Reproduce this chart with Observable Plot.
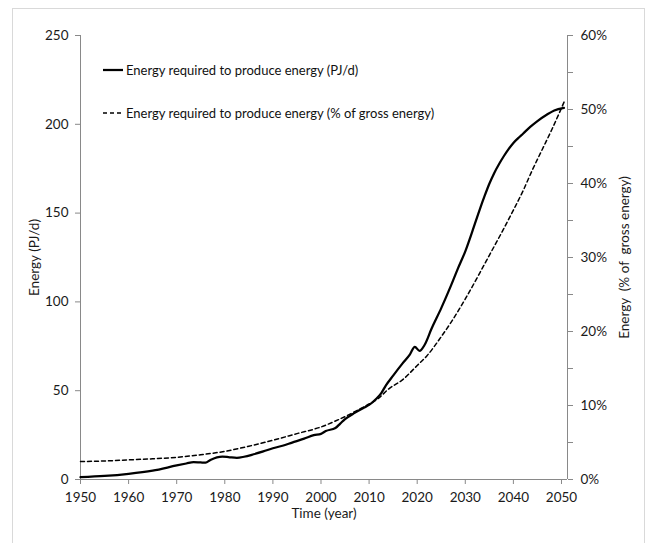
<!DOCTYPE html>
<html>
<head>
<meta charset="utf-8">
<script src="https://cdn.jsdelivr.net/npm/d3@7"></script>
<script src="https://cdn.jsdelivr.net/npm/@observablehq/plot@0.6"></script>
<style>
  html, body { margin: 0; padding: 0; background: #fff; overflow: hidden; }
  #wrap { position: relative; width: 648px; height: 543px; font-family: Lato, "Open Sans", sans-serif; }
  #border { position: absolute; left: 12px; top: 8px; width: 633px; height: 560px; border: 1px solid #d9d9d9; box-sizing: border-box; }
  #chart { position: absolute; left: 0; top: 0; }
  .leg { position: absolute; left: 103px; font-size: 13px; color: #111; white-space: nowrap; display: flex; align-items: center; }
  .leg svg { margin-right: 2px; }
</style>
</head>
<body>
<div id="wrap">
  <div id="border"></div>
  <div id="chart"></div>
</div>
<script>
// Energy required to produce energy (PJ/d) – solid line, left axis
const yearsPJ = [1950, 1955, 1960, 1965, 1970, 1972, 1973.5, 1975, 1976, 1977, 1979.5, 1981, 1982.5, 1984, 1986, 1988, 1990, 1992, 1994, 1996.5, 1998.5, 2000, 2001, 2003, 2004, 2005, 2007, 2009, 2010, 2011.5, 2012.5, 2013.5, 2015, 2017, 2018.5, 2019.5, 2020.5, 2021.5, 2023, 2025, 2027, 2028.5, 2030, 2031.5, 2033, 2034, 2035, 2036, 2037, 2038, 2039, 2040, 2041, 2042, 2043.5, 2045, 2047, 2048.5, 2050.5];
const energyPJ = [1.3, 2.0, 3.2, 5.0, 7.9, 9.0, 9.8, 9.6, 9.5, 11.0, 12.9, 12.5, 12.2, 12.8, 14.2, 15.8, 17.6, 19.0, 20.8, 23.0, 25.0, 25.7, 27.3, 29.0, 31.5, 34.0, 37.5, 40.5, 42.0, 45.5, 48.5, 53.0, 58.5, 65.5, 70.5, 74.7, 72.4, 75.6, 85.0, 96.5, 109.0, 119.0, 128.5, 140.0, 152.0, 159.5, 166.5, 172.5, 177.5, 182.0, 186.0, 189.5, 192.2, 194.7, 198.5, 201.8, 205.5, 207.8, 209.3];

// Energy required to produce energy (% of gross energy) – dashed line, right axis
const yearsPct = [1950, 1955, 1960, 1965, 1970, 1975, 1980, 1985, 1990, 1995, 2000, 2003, 2005, 2008, 2010, 2012, 2014, 2017, 2020, 2022, 2025, 2027, 2030, 2033, 2035, 2038, 2040, 2042, 2044, 2046, 2048, 2050.6];
const sharePct = [2.43, 2.5, 2.65, 2.8, 3.0, 3.35, 3.8, 4.5, 5.3, 6.2, 7.1, 7.9, 8.5, 9.5, 10.2, 11.0, 12.2, 13.5, 15.4, 16.7, 19.3, 21.2, 24.4, 27.9, 30.3, 33.9, 36.4, 39.0, 41.9, 44.6, 47.3, 51.1];

const xTicks = [1950, 1960, 1970, 1980, 1990, 2000, 2010, 2020, 2030, 2040, 2050];
const yTicks = [0, 50, 100, 150, 200, 250];
const pctTicks = [0, 10, 20, 30, 40, 50, 60];
const pctMinorTicks = [0, 5, 10, 15, 20, 25, 30, 35, 40, 45, 50, 55, 60];

const legendLabels = ["Energy required to produce energy (PJ/d)", "Energy required to produce energy (% of gross energy)"];
const axisLabels = { x: "Time (year)", yLeft: "Energy (PJ/d)", yRight: "Energy\u00a0\u00a0(% of\u00a0 gross energy)" };

const yMax = 250, pctMax = 60;
const k = yMax / pctMax; // map percent to left scale
const solid = yearsPJ.map((t, i) => ({ t, v: energyPJ[i] }));
const dashed = yearsPct.map((t, i) => ({ t, v: sharePct[i] * k }));

const axisGray = "#898989";
const textCol = "#1a1a1a";

const chart = Plot.plot({
  width: 648,
  height: 543,
  marginLeft: 80,
  marginRight: 81,
  marginTop: 35,
  marginBottom: 64,
  style: { fontFamily: "Lato, 'Open Sans', sans-serif", fontSize: "13.5px", color: textCol, background: "transparent" },
  x: { domain: [1950, 2051.25] },
  y: { domain: [0, yMax] },
  marks: [
    Plot.ruleY([0], { stroke: axisGray }),
    Plot.ruleX([1950], { stroke: axisGray }),
    Plot.ruleX([2051.25], { stroke: axisGray }),
    Plot.axisX({ ticks: xTicks, tickSize: 5, tickPadding: 8, tickFormat: d => String(d), stroke: axisGray, fill: textCol, label: null }),
    Plot.axisY({ ticks: yTicks, anchor: "left", tickSize: 5, tickPadding: 7, tickFormat: d => String(d), stroke: axisGray, fill: textCol, label: null }),
    Plot.axisY({ ticks: pctMinorTicks.map(p => p * k), anchor: "right", tickSize: 5, tickFormat: () => "", stroke: axisGray, label: null }),
    Plot.axisY({ ticks: pctTicks.map(p => p * k), anchor: "right", tickSize: 0, tickPadding: 13, tickFormat: d => Math.round(d / k) + "%", fill: textCol, label: null }),
    Plot.line(dashed, { x: "t", y: "v", stroke: "#000", strokeWidth: 1.5, strokeDasharray: "4,3", curve: "monotone-x" }),
    Plot.line(solid, { x: "t", y: "v", stroke: "#000", strokeWidth: 2.25, curve: "monotone-x" }),
    Plot.text([axisLabels.yLeft], { frameAnchor: "left", textAnchor: "middle", dx: -46, rotate: -90, fill: textCol }),
    Plot.text([axisLabels.yRight], { frameAnchor: "right", textAnchor: "middle", dx: 57, rotate: -90, fill: textCol }),
    Plot.text([axisLabels.x], { frameAnchor: "bottom", dy: 38, fill: textCol })
  ]
});
document.getElementById("chart").appendChild(chart);

// Legend (inside plot, top-left)
const wrap = document.getElementById("wrap");
legendLabels.forEach((lab, i) => {
  const d = document.createElement("div");
  d.className = "leg";
  d.style.top = (i === 0 ? 61 : 104) + "px";
  const dash = i === 0 ? "" : ' stroke-dasharray="4,3"';
  const sw = i === 0 ? 2.25 : 1.5;
  d.innerHTML = `<svg width="21" height="18"><line x1="0" x2="20" y1="9" y2="9" stroke="#000" stroke-width="${sw}"${dash}/></svg><span></span>`;
  d.querySelector("span").textContent = lab;
  wrap.appendChild(d);
});
</script>
</body>
</html>
